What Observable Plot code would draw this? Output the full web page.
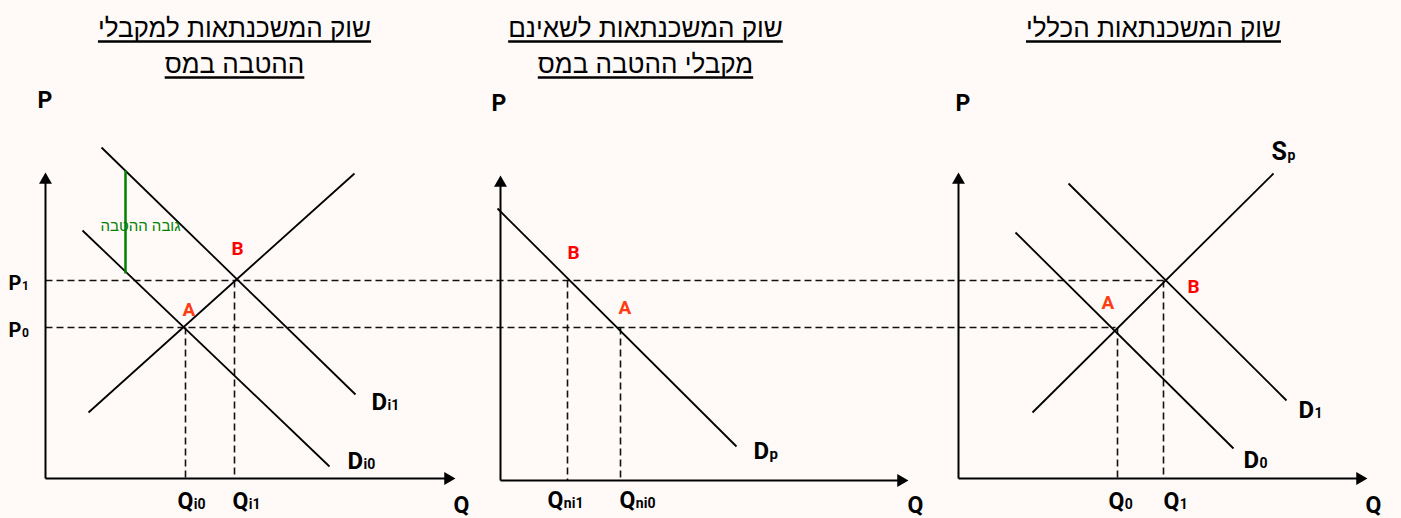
<!DOCTYPE html>
<html><head><meta charset="utf-8">
<script src="https://cdn.jsdelivr.net/npm/d3@7"></script>
<script src="https://cdn.jsdelivr.net/npm/@observablehq/plot@0.6"></script>
<style>
body{margin:0;background:#fffaf8;}
#chart svg{display:block;}
</style></head><body><div id="chart"></div><script>
// ---- supply / demand curves (layout units; y grows downward)
const curveNames = ["S_i","D_i0","D_i1","D_p","S_p","D_0","D_1"];
const curveX1 = [88, 82, 101, 497, 1032, 1015, 1068];
const curveY1 = [412, 230, 147, 208, 412, 232, 183];
const curveX2 = [354, 329, 355, 736, 1273, 1233, 1286];
const curveY2 = [173, 466, 394, 446, 173, 448, 400];

// ---- axes: origin, Q-arrow tip, P-arrow tip
const axisOriginX = [45, 500, 958];
const axisOriginY = [478, 480, 478];
const axisQTip = [455, 908, 1367];
const axisPTip = [172, 175, 172];

// ---- price levels (dashed, across panels)
const priceNames = ["P1","P0"];
const priceY = [280, 327];
const priceFromX = [45, 45];
const priceToX = [1165, 1115];

// ---- quantity guides (dashed verticals)
const qNames = ["Qi0","Qi1","Qni1","Qni0","Q0","Q1"];
const qX = [185, 234, 567, 620, 1117, 1163];
const qTopY = [327, 280, 280, 327, 327, 280];
const qBottomY = [478, 478, 480, 480, 478, 478];

// ---- benefit height (green)
const benefitX = [125];
const benefitTop = [170];
const benefitBottom = [273];
const benefitLabel = ["גובה ההטבה"];
const benefitLabelX = [140];
const benefitLabelY = [226];

// ---- axis / curve labels: main letter + subscript
const lblMain = ["P","P","P","P","P","Q","Q","Q","Q","Q","Q","Q","Q","Q","D","D","D","D","D","S"];
const lblSub  = ["","","","1","0","i0","i1","","ni1","ni0","","0","1","","i1","i0","p","1","0","p"];
const lblX    = [37,491,955,8,8,177,232,453,547,619,907,1108,1163,1365,371,347,753,1298,1243,1271];
const lblY    = [107,110,110,289,336,508,508,512,507,507,512,508,508,512,409,468,458,417,467,159];
const lblSize = [23,23,23,20,20,23,23,23,23,23,23,23,23,23,24,24,24,24,24,25];
const lblSubSize = [0,0,0,12,12,14,14,0,14,14,0,14,14,0,14,14,15,14,14,14];

// ---- equilibrium points labels
const ptText = ["A","B","B","A","A","B"];
const ptX = [182, 231, 567, 618, 1101, 1187];
const ptY = [315, 254, 258, 313, 308, 292];
const ptColor = ["#ff3d12","#ff0000","#ff0000","#ff3d12","#ff3d12","#ff0000"];

// ---- titles
const titleText = ["שוק המשכנתאות למקבלי","ההטבה במס","שוק המשכנתאות לשאינם","מקבלי ההטבה במס","שוק המשכנתאות הכללי"];
const titleX = [234, 234, 645, 645, 1153];
const titleY = [36, 72, 36, 72, 36];

const LAT = "Roboto, Lato, sans-serif";
const HEB = "'Liberation Sans', Arial, 'DejaVu Sans', sans-serif";
const TITLE_SIZE = 26;

// text measurement (for subscript placement and title underlines)
const ctx = document.createElement("canvas").getContext("2d");
function measure(text, font) { ctx.font = font; return ctx.measureText(text).width; }

// ---- build tables
const curves = curveNames.map((n,i)=>({n, x1:curveX1[i], y1:curveY1[i], x2:curveX2[i], y2:curveY2[i]}));
const axes = axisOriginX.map((x,i)=>({x, y:axisOriginY[i], qx:axisQTip[i], py:axisPTip[i]}));
const prices = priceNames.map((n,i)=>({n, y:priceY[i], x1:priceFromX[i], x2:priceToX[i]}));
const qs = qNames.map((n,i)=>({n, x:qX[i], y1:qTopY[i], y2:qBottomY[i]}));
const benefit = benefitX.map((x,i)=>({x, y1:benefitTop[i], y2:benefitBottom[i], t:benefitLabel[i], lx:benefitLabelX[i], ly:benefitLabelY[i]}));
const labels = lblMain.map((m,i)=>({m, s:lblSub[i], x:lblX[i], y:lblY[i], size:lblSize[i], ssize:lblSubSize[i],
  sx: lblX[i] + measure(m, `bold ${lblSize[i]}px ${LAT}`) + 0.5}));
const subs = labels.filter(d=>d.s);
const pts = ptText.map((t,i)=>({t, x:ptX[i], y:ptY[i], c:ptColor[i]}));
const titles = titleText.map((t,i)=>{
  const w = measure(t, `${TITLE_SIZE}px ${HEB}`);
  return {t, x:titleX[i], y:titleY[i], ux1:titleX[i]-w/2, ux2:titleX[i]+w/2, uy:titleY[i]+5};
});

const headLen = 7.5; // offset from tip to centroid of triangle marker

const plot = Plot.plot({
  width: 1401, height: 518,
  margin: 0,
  x: {domain:[0,1401], range:[0,1401], axis:null},
  y: {domain:[0,518], range:[0,518], axis:null},
  style: {background:"#fffaf8", overflow:"visible"},
  marks: [
    // dashed guides
    Plot.link(prices, {x1:"x1", x2:"x2", y1:"y", y2:"y", stroke:"#111", strokeWidth:1.6, strokeDasharray:"7,4"}),
    Plot.link(qs, {x1:"x", x2:"x", y1:"y1", y2:"y2", stroke:"#111", strokeWidth:1.6, strokeDasharray:"7,4"}),
    // axes
    Plot.link(axes, {x1:"x", y1:"y", x2:d=>d.qx-8, y2:"y", stroke:"#000", strokeWidth:2}),
    Plot.link(axes, {x1:"x", y1:"y", x2:"x", y2:d=>d.py+8, stroke:"#000", strokeWidth:2}),
    Plot.dot(axes, {x:"qx", y:"y", symbol:"triangle", r:4.8, rotate:90, fill:"#000", stroke:null, dx:-headLen}),
    Plot.dot(axes, {x:"x", y:"py", symbol:"triangle", r:4.8, fill:"#000", stroke:null, dy:headLen}),
    // curves
    Plot.link(curves, {x1:"x1", y1:"y1", x2:"x2", y2:"y2", stroke:"#000", strokeWidth:1.8}),
    // benefit
    Plot.link(benefit, {x1:"x", x2:"x", y1:"y1", y2:"y2", stroke:"#008000", strokeWidth:2.5}),
    Plot.text(benefit, {x:"lx", y:"ly", text:"t", fill:"#008000", fontSize:15, fontFamily:HEB, textAnchor:"middle", lineAnchor:"middle"}),
    // labels
    Plot.text(labels, {x:"x", y:"y", text:"m", fontSize:d=>d.size, fontWeight:"bold", fontFamily:LAT, fill:"#000", textAnchor:"start", lineAnchor:"bottom"}),
    Plot.text(subs, {x:"sx", y:"y", text:"s", fontSize:d=>d.ssize, fontWeight:"bold", fontFamily:LAT, fill:"#000", textAnchor:"start", lineAnchor:"bottom"}),
    Plot.text(pts, {x:"x", y:"y", text:"t", fill:d=>d.c, fontSize:19, fontWeight:"bold", fontFamily:LAT, textAnchor:"start", lineAnchor:"bottom"}),
    // titles + underlines
    Plot.text(titles, {x:"x", y:"y", text:"t", fontSize:TITLE_SIZE, fontFamily:HEB, fill:"#000", textAnchor:"middle", lineAnchor:"bottom"}),
    Plot.link(titles, {x1:"ux1", x2:"ux2", y1:"uy", y2:"uy", stroke:"#000", strokeWidth:2.5})
  ]
});
document.getElementById("chart").appendChild(plot);
</script></body></html>
